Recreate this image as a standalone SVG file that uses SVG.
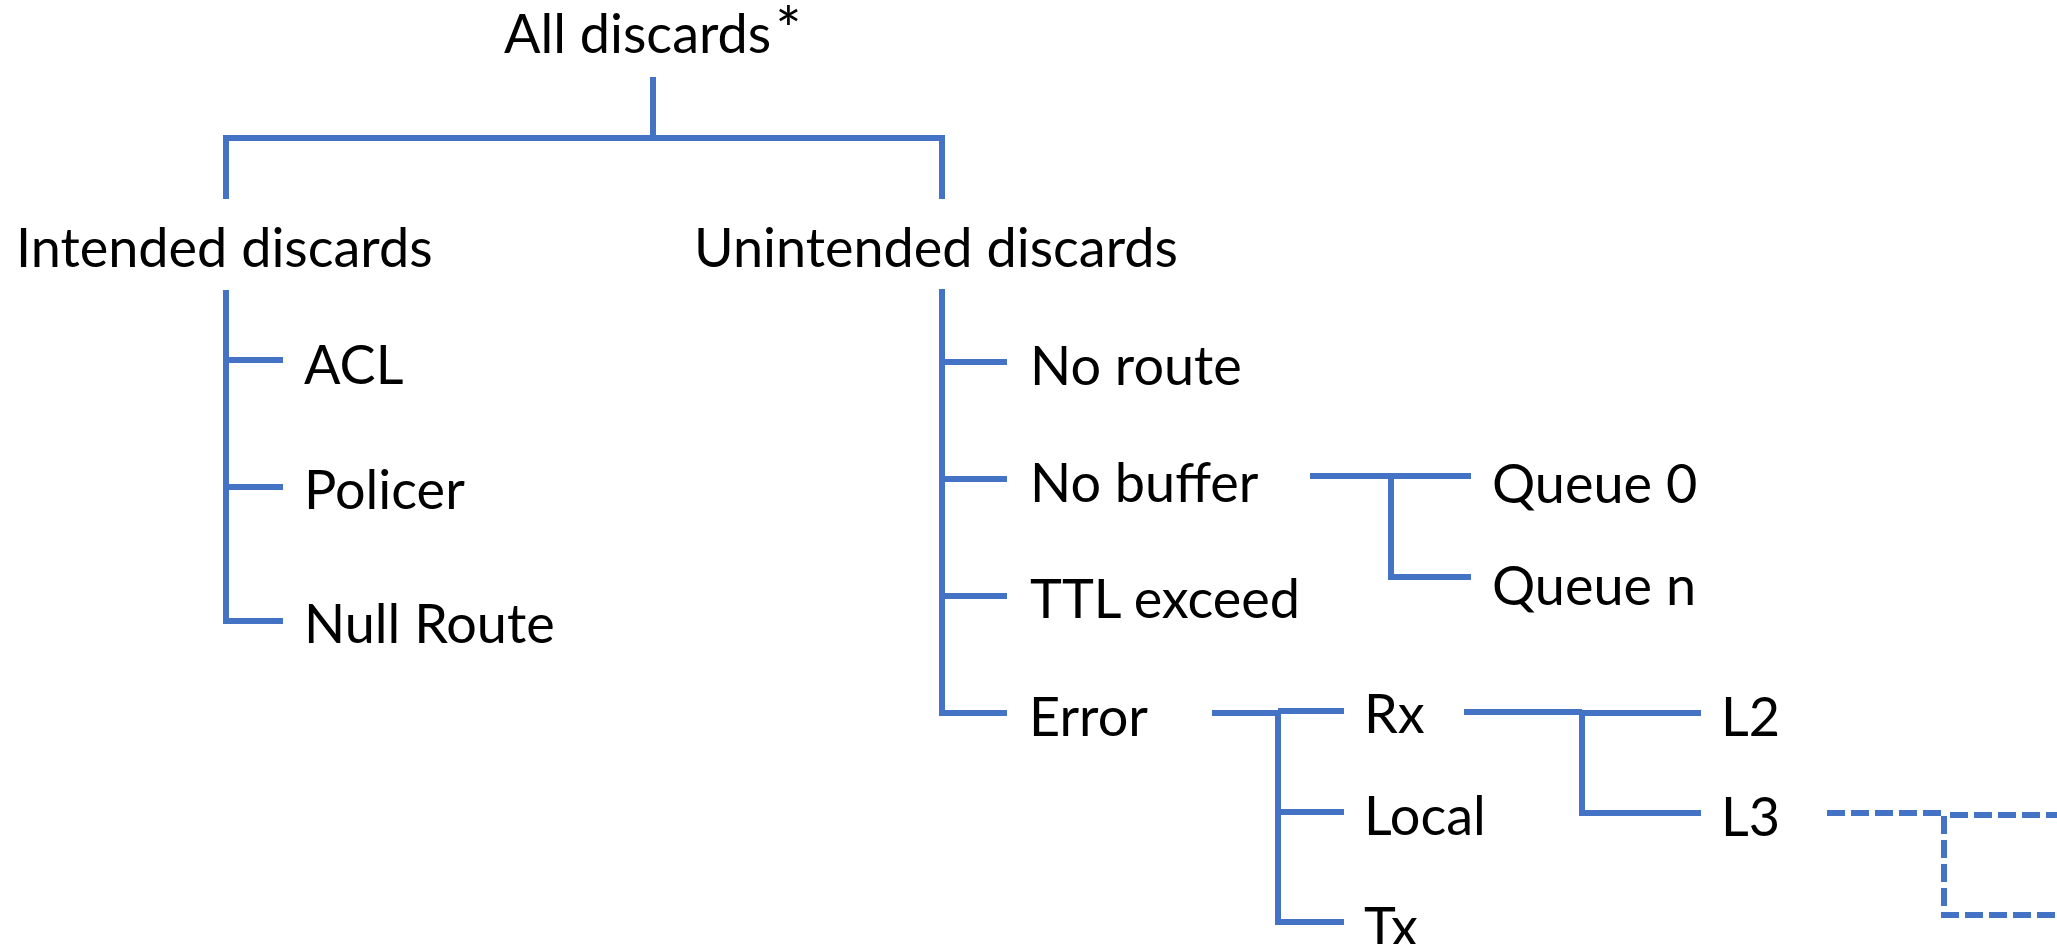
<svg xmlns="http://www.w3.org/2000/svg" width="2057" height="944" viewBox="0 0 2057 944">
<style>
.lbl{font-family:Lato,"Liberation Sans",sans-serif;font-size:54px;fill:#000}
.ln{fill:none;stroke:#4472C4;stroke-width:6;stroke-linejoin:miter;stroke-linecap:butt}
.dash{stroke-dasharray:18 6}
</style>
<rect width="2057" height="944" fill="#fff"/>
<g id="connectors">
<path class="ln" d="M653,77 V138"/>
<path class="ln" d="M226,199 V138 H942 V199"/>
<path class="ln" d="M226,290 V621 H283"/>
<path class="ln" d="M226,360 H283"/>
<path class="ln" d="M226,487 H283"/>
<path class="ln" d="M942,289 V713 H1007"/>
<path class="ln" d="M942,362 H1007"/>
<path class="ln" d="M942,479 H1007"/>
<path class="ln" d="M942,596 H1007"/>
<path class="ln" d="M1310,476 H1471"/>
<path class="ln" d="M1391,476 V577 H1471"/>
<path class="ln" d="M1212,713 H1278"/>
<path class="ln" d="M1278,711 H1344"/>
<path class="ln" d="M1278,711 V922 H1344"/>
<path class="ln" d="M1278,812 H1344"/>
<path class="ln" d="M1464,712 H1582"/>
<path class="ln" d="M1582,713 H1701"/>
<path class="ln" d="M1582,712 V813 H1701"/>
<path class="ln dash" d="M1827,813 H1944 V915 H2057"/>
<path class="ln dash" d="M1950,815 H2057"/>
</g>
<g id="n-all"><text class="lbl" x="504" y="53">All discards<tspan font-size="62" dx="4" dy="-1">*</tspan></text></g>
<g id="n-intended"><text class="lbl" x="16" y="267">Intended discards</text></g>
<g id="n-unintended"><text class="lbl" x="694" y="267">Unintended discards</text></g>
<g id="n-acl"><text class="lbl" x="304" y="384">ACL</text></g>
<g id="n-policer"><text class="lbl" x="304" y="509">Policer</text></g>
<g id="n-nullroute"><text class="lbl" x="304" y="643">Null Route</text></g>
<g id="n-noroute"><text class="lbl" x="1030" y="385">No route</text></g>
<g id="n-nobuffer"><text class="lbl" x="1030" y="502">No buffer</text></g>
<g id="n-ttl"><text class="lbl" x="1030" y="618">TTL exceed</text></g>
<g id="n-error"><text class="lbl" x="1029" y="736">Error</text></g>
<g id="n-queue0"><text class="lbl" x="1492" y="503">Queue 0</text></g>
<g id="n-queuen"><text class="lbl" x="1492" y="605">Queue n</text></g>
<g id="n-rx"><text class="lbl" x="1364" y="733">Rx</text></g>
<g id="n-local"><text class="lbl" x="1364" y="835">Local</text></g>
<g id="n-tx"><text class="lbl" x="1364" y="946">Tx</text></g>
<g id="n-l2"><text class="lbl" x="1721" y="736">L2</text></g>
<g id="n-l3"><text class="lbl" x="1721" y="836">L3</text></g>
</svg>
